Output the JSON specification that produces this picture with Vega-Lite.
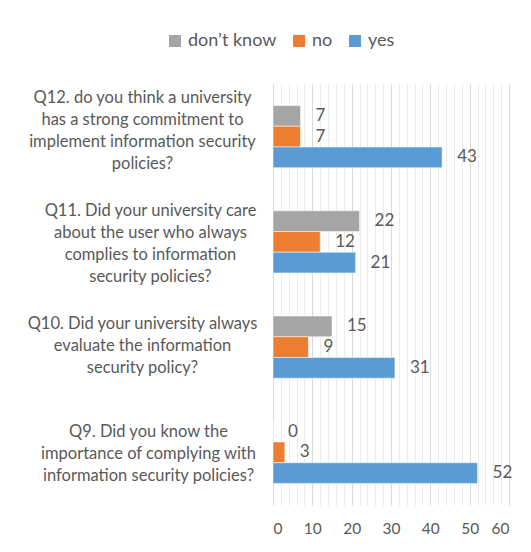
{
  "$schema": "https://vega.github.io/schema/vega-lite/v6.json",
  "width": 236,
  "height": 421,
  "autosize": {"type": "none"},
  "padding": {"left": 273, "top": 84, "right": 22, "bottom": 47},
  "background": "white",
  "config": {"view": {"stroke": null}, "font": "Lato"},
  "data": {
    "values": [
      {"question": "Q12. do you think a university|has a strong commitment to|implement information security|policies?", "answer": "don’t know", "count": 7},
      {"question": "Q12. do you think a university|has a strong commitment to|implement information security|policies?", "answer": "no", "count": 7},
      {"question": "Q12. do you think a university|has a strong commitment to|implement information security|policies?", "answer": "yes", "count": 43},
      {"question": "Q11. Did your university care|about the user who always|complies to information|security policies?", "answer": "don’t know", "count": 22},
      {"question": "Q11. Did your university care|about the user who always|complies to information|security policies?", "answer": "no", "count": 12},
      {"question": "Q11. Did your university care|about the user who always|complies to information|security policies?", "answer": "yes", "count": 21},
      {"question": "Q10. Did your university always|evaluate the information|security policy?", "answer": "don’t know", "count": 15},
      {"question": "Q10. Did your university always|evaluate the information|security policy?", "answer": "no", "count": 9},
      {"question": "Q10. Did your university always|evaluate the information|security policy?", "answer": "yes", "count": 31},
      {"question": "Q9. Did you know the|importance of complying with|information security policies?", "answer": "don’t know", "count": 0},
      {"question": "Q9. Did you know the|importance of complying with|information security policies?", "answer": "no", "count": 3},
      {"question": "Q9. Did you know the|importance of complying with|information security policies?", "answer": "yes", "count": 52}
    ]
  },
  "encoding": {
    "y": {
      "field": "question",
      "type": "nominal",
      "sort": [
        "Q12. do you think a university|has a strong commitment to|implement information security|policies?",
        "Q11. Did your university care|about the user who always|complies to information|security policies?",
        "Q10. Did your university always|evaluate the information|security policy?",
        "Q9. Did you know the|importance of complying with|information security policies?"
      ],
      "scale": {"paddingInner": 0.41, "paddingOuter": 0.205},
      "axis": {
        "title": null,
        "domain": false,
        "ticks": false,
        "labelAlign": "center",
        "labelBaseline": "middle",
        "labelPadding": {
          "condition": [
            {"test": "substring(datum.value, 0, 3) === 'Q12'", "value": 131},
            {"test": "substring(datum.value, 0, 3) === 'Q11'", "value": 123},
            {"test": "substring(datum.value, 0, 3) === 'Q10'", "value": 131}
          ],
          "value": 125
        },
        "labelOffset": {
          "condition": [
            {"test": "substring(datum.value, 0, 3) === 'Q12'", "value": -39},
            {"test": "substring(datum.value, 0, 3) === 'Q11'", "value": -31},
            {"test": "substring(datum.value, 0, 3) === 'Q10'", "value": -23}
          ],
          "value": -20
        },
        "labelFontSize": 16.5,
        "labelColor": "#595959",
        "labelLineHeight": 22,
        "labelLimit": 0,
        "labelExpr": "split(datum.label, '|')"
      }
    },
    "yOffset": {
      "field": "answer",
      "type": "nominal",
      "sort": ["don’t know", "no", "yes"],
      "scale": {"paddingInner": 0, "paddingOuter": 0}
    },
    "x": {
      "field": "count",
      "type": "quantitative",
      "scale": {"domain": [0, 60], "nice": false},
      "axis": {
        "title": null,
        "domain": false,
        "ticks": false,
        "values": [0,2,4,6,8,10,12,14,16,18,20,22,24,26,28,30,32,34,36,38,40,42,44,46,48,50,52,54,56,58,60],
        "labelExpr": "datum.value % 10 === 0 ? datum.label : ''",
        "labelFontSize": 15.5,
        "labelColor": "#595959",
        "labelPadding": 16,
        "gridColor": {"condition": {"test": "datum.value % 10 === 0", "value": "#d9d9d9"}, "value": "#ebebeb"},
        "gridWidth": 1
      }
    }
  },
  "layer": [
    {
      "mark": {"type": "bar", "stroke": "white", "strokeWidth": 0.5},
      "encoding": {
        "color": {
          "field": "answer",
          "type": "nominal",
          "scale": {"domain": ["don’t know", "no", "yes"], "range": ["#A5A5A5", "#ED7D31", "#5B9BD5"]},
          "legend": {
            "title": null,
            "orient": "none",
            "direction": "horizontal",
            "legendX": -107,
            "legendY": -52,
            "symbolType": "square",
            "symbolSize": 144,
            "symbolStrokeWidth": 0,
            "labelFontSize": 18,
            "labelColor": "#595959",
            "labelOffset": 4,
            "columnPadding": 13
          }
        }
      }
    },
    {
      "mark": {"type": "text", "align": "left", "baseline": "middle", "dx": 15, "fontSize": 17, "fill": "#595959"},
      "encoding": {"text": {"field": "count", "type": "quantitative"}}
    }
  ]
}
